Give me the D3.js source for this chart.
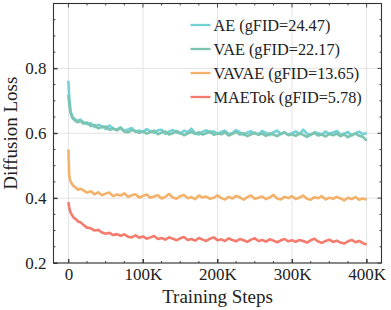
<!DOCTYPE html>
<html>
<head>
<meta charset="utf-8">
<script src="https://cdn.jsdelivr.net/npm/d3@7"></script>
<style>
  body { margin: 0; background: #fff; }
  text { font-family: "Liberation Serif", "DejaVu Serif", serif; fill: #222; }
</style>
</head>
<body>
<div id="graf"></div>
<script>
// pasos de entrenamiento (en miles)
const pasos = [0,1,2,3,5,7,10,13,16,20,25,30,35,40,45,50,55,60,65,70,75,80,85,90,95,100,
  105,110,115,120,125,130,135,140,145,150,155,160,165,170,175,180,185,190,195,200,
  205,210,215,220,225,230,235,240,245,250,255,260,265,270,275,280,285,290,295,300,
  305,310,315,320,325,330,335,340,345,350,355,360,365,370,375,380,385,390,395,400]

const lossAE = [0.762,0.712,0.688,0.668,0.652,0.647,0.641,0.638,0.642,
  0.634,0.628,0.631,0.619,0.626,0.622,0.613,0.624,0.615,0.611,0.618,0.607,0.612,0.616,0.604,0.609,0.603,
  0.613,0.606,0.601,0.609,0.611,0.598,0.605,0.61,0.602,0.599,0.608,0.603,0.614,0.6,0.596,0.605,0.609,0.601,0.606,0.598,
  0.604,0.608,0.597,0.601,0.61,0.603,0.595,0.602,0.606,0.599,0.597,0.607,0.601,0.594,0.603,0.608,0.598,0.602,0.596,0.6,
  0.606,0.597,0.611,0.599,0.594,0.603,0.6,0.596,0.605,0.598,0.602,0.607,0.595,0.599,0.604,0.593,0.6,0.605,0.597,0.601]

const lossVAE = [0.718,0.695,0.675,0.662,0.648,0.643,0.637,0.634,0.639,
  0.63,0.633,0.622,0.626,0.615,0.619,0.621,0.611,0.614,0.609,0.616,0.605,0.603,0.61,0.607,0.601,0.606,
  0.599,0.604,0.608,0.597,0.602,0.605,0.596,0.6,0.607,0.601,0.594,0.599,0.604,0.598,0.603,0.596,0.6,0.606,0.595,0.599,
  0.597,0.603,0.593,0.598,0.604,0.596,0.6,0.591,0.597,0.602,0.595,0.599,0.592,0.6,0.596,0.591,0.598,0.603,0.594,0.597,
  0.592,0.6,0.595,0.589,0.597,0.601,0.593,0.596,0.59,0.598,0.594,0.599,0.591,0.596,0.588,0.595,0.599,0.592,0.589,0.577]

const lossVAVAE = [0.55,0.472,0.458,0.451,0.443,0.437,0.432,0.426,0.429,
  0.424,0.417,0.421,0.412,0.418,0.409,0.414,0.417,0.406,0.411,0.408,0.415,0.404,0.409,0.412,0.402,0.407,
  0.411,0.401,0.405,0.409,0.399,0.404,0.413,0.402,0.398,0.406,0.41,0.4,0.403,0.397,0.408,0.402,0.405,0.398,0.401,0.409,
  0.4,0.396,0.404,0.399,0.407,0.402,0.395,0.403,0.408,0.398,0.401,0.405,0.397,0.402,0.41,0.399,0.396,0.404,0.4,0.406,
  0.397,0.402,0.408,0.398,0.395,0.403,0.4,0.406,0.396,0.401,0.398,0.404,0.399,0.393,0.401,0.397,0.403,0.395,0.399,0.396]

const lossMAETok = [0.388,0.372,0.362,0.355,0.347,0.34,0.335,0.328,0.326,
  0.318,0.309,0.307,0.3,0.302,0.294,0.29,0.293,0.286,0.289,0.284,0.288,0.281,0.279,0.285,0.278,0.282,
  0.275,0.279,0.283,0.274,0.277,0.272,0.279,0.275,0.27,0.276,0.28,0.271,0.274,0.269,0.277,0.272,0.268,0.275,0.279,0.27,
  0.273,0.268,0.276,0.271,0.267,0.274,0.27,0.265,0.272,0.276,0.268,0.271,0.266,0.273,0.269,0.264,0.27,0.274,0.267,0.27,
  0.265,0.271,0.268,0.263,0.27,0.275,0.266,0.262,0.268,0.272,0.265,0.269,0.263,0.26,0.267,0.271,0.264,0.268,0.261,0.257]

const nombres = ["AE (gFID=24.47)", "VAE (gFID=22.17)", "VAVAE (gFID=13.65)", "MAETok (gFID=5.78)"]
const colores = ["#72d2d6", "#7cc3b0", "#f4b16a", "#f47c6e"]
const series = [lossAE, lossVAE, lossVAVAE, lossMAETok]

const xTicks = [0, 100, 200, 300, 400]
const xTickLabels = ["0", "100K", "200K", "300K", "400K"]
const yTicks = [0.2, 0.4, 0.6, 0.8]

// Dimensiones
const anchoTotal = 391
const altoTotal = 310
const margins = { top: 3.5, right: 9.5, bottom: 47, left: 53.5 }
const ancho = anchoTotal - margins.left - margins.right
const alto = altoTotal - margins.top - margins.bottom

const svg = d3.select("#graf")
  .append("svg")
  .attr("width", anchoTotal)
  .attr("height", altoTotal)

const g = svg.append("g")
  .attr("transform", `translate(${margins.left}, ${margins.top})`)

// Escaladores
const x = d3.scaleLinear().domain([-20, 420]).range([0, ancho])
const y = d3.scaleLinear().domain([0.2, 1.0]).range([alto, 0])

// rejilla
g.append("g").selectAll("line")
  .data(xTicks)
  .join("line")
  .attr("x1", d => x(d)).attr("x2", d => x(d))
  .attr("y1", 0).attr("y2", alto)
  .attr("stroke", "#e3e3e3").attr("stroke-width", 1)

g.append("g").selectAll("line")
  .data(yTicks)
  .join("line")
  .attr("x1", 0).attr("x2", ancho)
  .attr("y1", d => y(d)).attr("y2", d => y(d))
  .attr("stroke", "#e3e3e3").attr("stroke-width", 1)

// lineas
const linea = d3.line()
  .x((d, i) => x(pasos[i]))
  .y(d => y(d))

series.forEach((s, i) => {
  g.append("path")
    .datum(s)
    .attr("d", linea)
    .attr("fill", "none")
    .attr("stroke", colores[i])
    .attr("stroke-width", 2.6)
    .attr("stroke-linejoin", "round")
})

// Ejes (ticks hacia adentro, en los cuatro lados)
const xMinor = d3.range(0, 401, 25)
const yMinor = d3.range(0.2, 1.001, 0.05)

const ejeAbajo = d3.axisBottom(x).tickValues(xTicks).tickFormat((d, i) => xTickLabels[i]).tickSizeInner(-4).tickSizeOuter(0).tickPadding(5)
const ejeIzq = d3.axisLeft(y).tickValues(yTicks).tickFormat(d3.format(".1f")).tickSizeInner(-4).tickSizeOuter(0).tickPadding(7)

const gx = g.append("g").attr("transform", `translate(0, ${alto})`).call(ejeAbajo)
const gy = g.append("g").call(ejeIzq)

gx.selectAll("text").attr("font-size", 17).style("font-family", "Liberation Serif").attr("fill", "#222")
gy.selectAll("text").attr("font-size", 17).style("font-family", "Liberation Serif").attr("fill", "#222")

// ticks menores y ticks de arriba/derecha
const marcas = g.append("g").attr("stroke", "#333").attr("stroke-width", 0.9)
xMinor.forEach(v => {
  const mayor = v % 100 === 0
  const l = mayor ? 4 : 2
  marcas.append("line").attr("x1", x(v)).attr("x2", x(v)).attr("y1", alto).attr("y2", alto - l)
  marcas.append("line").attr("x1", x(v)).attr("x2", x(v)).attr("y1", 0).attr("y2", l)
})
yMinor.forEach((v, i) => {
  const mayor = i % 4 === 0
  const l = mayor ? 4 : 2
  marcas.append("line").attr("x1", 0).attr("x2", l).attr("y1", y(v)).attr("y2", y(v))
  marcas.append("line").attr("x1", ancho).attr("x2", ancho - l).attr("y1", y(v)).attr("y2", y(v))
})

g.selectAll(".domain").remove()
g.selectAll(".tick line").attr("stroke", "#333")

// marco
g.append("rect")
  .attr("width", ancho).attr("height", alto)
  .attr("fill", "none").attr("stroke", "#333").attr("stroke-width", 1.1)

// leyenda
const leyenda = g.append("g")
nombres.forEach((n, i) => {
  const yy = 21.5 + i * 24
  leyenda.append("line")
    .attr("x1", 137).attr("x2", 157)
    .attr("y1", yy).attr("y2", yy)
    .attr("stroke", colores[i]).attr("stroke-width", 2.3)
  leyenda.append("text")
    .attr("x", 160).attr("y", yy + 5.5)
    .attr("font-size", 16.3)
    .text(n)
})

// Títulos
svg.append("text")
  .attr("x", margins.left + x(200))
  .attr("y", 303)
  .attr("text-anchor", "middle")
  .attr("font-size", 19)
  .text("Training Steps")

svg.append("text")
  .attr("transform", `translate(17, ${margins.top + alto / 2}) rotate(-90)`)
  .attr("text-anchor", "middle")
  .attr("font-size", 19)
  .text("Diffusion Loss")
</script>
</body>
</html>
